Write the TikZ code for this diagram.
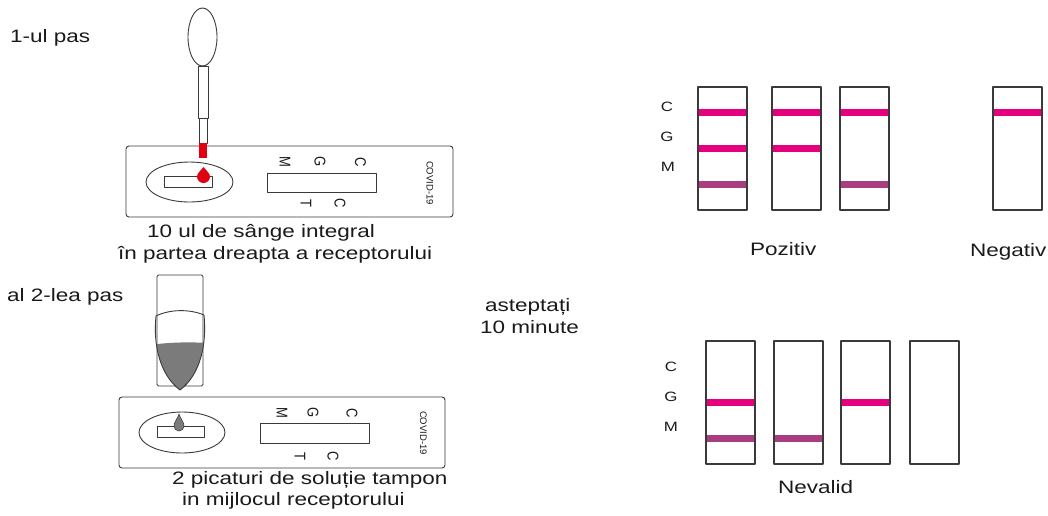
\documentclass[tikz,border=0pt]{standalone}
\usepackage{fontspec}
\setmainfont{Liberation Sans}
\usepackage{graphicx}
\definecolor{bandpink}{HTML}{E5007D}
\definecolor{bandpurple}{HTML}{A83E80}
\definecolor{edge}{HTML}{3A3A3A}
\definecolor{buffer}{HTML}{7B7B7B}
\definecolor{blood}{HTML}{E0000F}
\definecolor{ink}{HTML}{1A1A1A}
% labels are set a little wider than their height
\newcommand{\wide}[1]{\scalebox{1.25}[1]{#1}}
% turned letters, stretched across the cassette
\newcommand{\tall}[1]{\scalebox{1}[1.2]{#1}}
\tikzset{
  lbl/.style={font=\fontsize{18}{21}\selectfont, inner sep=0, anchor=base west, text=ink},
  axis/.style={font=\fontsize{13.5}{15}\selectfont, inner sep=0, text=ink},
  turned/.style={font=\fontsize{13}{15}\selectfont, inner sep=0, rotate=-90, text=ink},
  brand/.style={font=\fontsize{9.5}{11}\selectfont, inner sep=0, rotate=-90, text=ink},
  part/.style={draw=edge, line width=0.9pt},
  cassette/.style={part, rounded corners=3pt, inner sep=0, outer sep=0, anchor=north west,
    minimum width=327pt, minimum height=71pt},
  strip/.style={draw=edge, line width=1.3pt, inner sep=0, outer sep=0, anchor=north west,
    minimum width=49pt, minimum height=123pt},
}
% coloured band across a strip, #2 = offset of its top edge below the strip top
\newcommand{\band}[3]{\fill[#3] ([xshift=0.6pt]#1.north west) ++(0,#2) rectangle ++(47.8,7);}
\begin{document}
\begin{tikzpicture}[x=1pt,y=-1pt,line join=round]
\useasboundingbox (0,0) rectangle (1048,515);

% ---------- step 1 ----------
\node[lbl] (step1) at (10,42) {\wide{1-ul pas}};

\node[cassette] (cas1) at (126,146) {};
\draw[part] (189.5,182) ellipse [x radius=43.5, y radius=20];
\draw[part] (164,176) rectangle (212,187);
\draw[part] (267,173) rectangle (376,192);
\node[turned] (m1) at (285,162) {\tall{M}};
\node[turned] (g1) at (320,162) {\tall{G}};
\node[turned] (c1) at (360.5,162) {\tall{C}};
\node[turned] (t1) at (306,203) {\tall{T}};
\node[turned] (cc1) at (340,203) {\tall{C}};
\node[brand] (cov1) at (430,183) {COVID-19};

% pipette
\draw[part, fill=white] (202.5,37) ellipse [x radius=14.5, y radius=29];
\draw[part, fill=white] (198,66) rectangle (208,118);
\draw[part, fill=white] (199,118) rectangle (207,143);
\fill[blood] (199,143) rectangle (207,158);
% blood drop
\fill[blood] (203.5,167) .. controls (205.5,170) and (210,173) .. (210,176.5)
  arc[start angle=0, end angle=180, radius=6.5]
  .. controls (197,173) and (201.5,170) .. cycle;

\node[lbl] (cap1a) at (147,237) {\wide{10 ul de sânge integral}};
\node[lbl] (cap1b) at (118,259) {\wide{în partea dreapta a receptorului}};

% ---------- step 2 ----------
\node[lbl] (step2) at (7,301) {\wide{al 2-lea pas}};

% buffer bottle
\draw[part, rounded corners=1.5pt] (157,386) rectangle (203,275);
\begin{scope}
  \clip (156,316) .. controls (153,345) and (160,375) .. (180,390)
    .. controls (200,375) and (207,345) .. (204,315) -- cycle;
  \fill[buffer] (150,345) .. controls (170,342) and (190,342) .. (210,343) -- (210,395) -- (150,395) -- cycle;
\end{scope}
\draw[part] (156,316) .. controls (153,345) and (160,375) .. (180,390);
\draw[part] (204,315) .. controls (207,345) and (200,375) .. (180,390);
\draw[part] (156,316) .. controls (170,309) and (190,309) .. (204,315);

\node[cassette, minimum width=326pt] (cas2) at (119,397) {};
\draw[part] (182,432.5) ellipse [x radius=43, y radius=20.5];
\draw[part] (157,426) rectangle (204,437);
\draw[part] (260,423) rectangle (369,443);
\node[turned] (m2) at (282,413) {\tall{M}};
\node[turned] (g2) at (313,413) {\tall{G}};
\node[turned] (c2) at (352,413) {\tall{C}};
\node[turned] (t2) at (300,456) {\tall{T}};
\node[turned] (cc2) at (333,456) {\tall{C}};
\node[brand] (cov2) at (423.5,433) {COVID-19};
% buffer drop
\filldraw[buffer, draw=edge, line width=0.6pt] (179,414) .. controls (180,418) and (184,422) .. (184,426)
  arc[start angle=0, end angle=180, radius=5]
  .. controls (174,422) and (178,418) .. cycle;

\node[lbl] (cap2a) at (172,484) {\wide{2 picaturi de soluție tampon}};
\node[lbl] (cap2b) at (182,505) {\wide{in mijlocul receptorului}};

\node[lbl] (wait1) at (485,311) {\wide{asteptați}};
\node[lbl] (wait2) at (480,333) {\wide{10 minute}};

% ---------- results: positive / negative ----------
\node[axis] (lc1) at (667,107) {\wide{C}};
\node[axis] (lg1) at (667,137) {\wide{G}};
\node[axis] (lm1) at (668,167) {\wide{M}};

\node[strip] (p1) at (698,87) {};
\node[strip] (p2) at (772,87) {};
\node[strip] (p3) at (840,87) {};
\node[strip] (n1) at (993,87) {};
\band{p1}{21.5}{bandpink}\band{p1}{57.5}{bandpink}\band{p1}{93.5}{bandpurple}
\band{p2}{21.5}{bandpink}\band{p2}{57.5}{bandpink}
\band{p3}{21.5}{bandpink}\band{p3}{93.5}{bandpurple}
\band{n1}{21.5}{bandpink}

\node[lbl] (pos) at (750,255) {\wide{Pozitiv}};
\node[lbl] (neg) at (970,256.5) {\wide{Negativ}};

% ---------- results: invalid ----------
\node[axis] (lc2) at (671,367) {\wide{C}};
\node[axis] (lg2) at (671,397) {\wide{G}};
\node[axis] (lm2) at (671,427) {\wide{M}};

\node[strip] (v1) at (706,341) {};
\node[strip] (v2) at (774,341) {};
\node[strip] (v3) at (841,341) {};
\node[strip] (v4) at (910,341) {};
\band{v1}{57.5}{bandpink}\band{v1}{93.5}{bandpurple}
\band{v2}{93.5}{bandpurple}
\band{v3}{57.5}{bandpink}

\node[lbl] (inv) at (778,493) {\wide{Nevalid}};
\end{tikzpicture}
\end{document}
